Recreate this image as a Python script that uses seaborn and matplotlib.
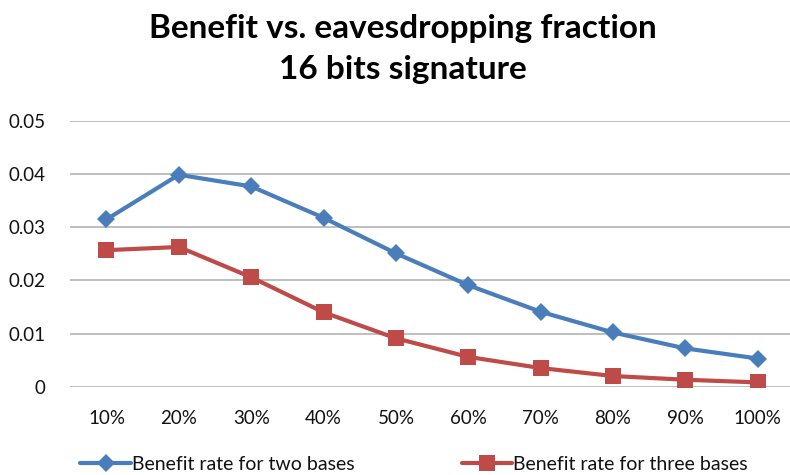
import matplotlib
matplotlib.use("Agg")
import matplotlib.pyplot as plt
import seaborn as sns
import pandas as pd

fractions = ["10%", "20%", "30%", "40%", "50%", "60%", "70%", "80%", "90%", "100%"]
two_bases = [0.0315, 0.0399, 0.0377, 0.0318, 0.0251, 0.0191, 0.0141, 0.0102, 0.0072, 0.0053]
three_bases = [0.0257, 0.0263, 0.0206, 0.0140, 0.0091, 0.0056, 0.0035, 0.0020, 0.0013, 0.0008]
series_names = ["Benefit rate for two bases", "Benefit rate for three bases"]
y_ticks = [0, 0.01, 0.02, 0.03, 0.04, 0.05]
y_tick_labels = ["0", "0.01", "0.02", "0.03", "0.04", "0.05"]

df = pd.DataFrame({
    "fraction": fractions * 2,
    "benefit": two_bases + three_bases,
    "series": [series_names[0]] * len(fractions) + [series_names[1]] * len(fractions),
})
df["pos"] = df["fraction"].map({f: i for i, f in enumerate(fractions)})

sns.set_theme(style="white")
plt.rcParams["font.family"] = ["Lato", "DejaVu Sans"]

fig = plt.figure(figsize=(7.9, 4.75), dpi=100)
ax = fig.add_axes([0.089, 0.186, 0.916, 0.559])

palette = {series_names[0]: "#4A7EBB", series_names[1]: "#BE4B48"}
markers = {series_names[0]: "D", series_names[1]: "s"}
sizes = {series_names[0]: 9, series_names[1]: 11}

for name in series_names:
    sub = df[df["series"] == name]
    sns.lineplot(data=sub, x="pos", y="benefit", ax=ax, color=palette[name],
                 marker=markers[name], markersize=sizes[name], linewidth=3,
                 markeredgewidth=0, label=name, zorder=3)

ax.set_xlim(-0.5, len(fractions) - 0.5)
ax.set_ylim(0, 0.05)
ax.set_xticks(range(len(fractions)))
ax.set_xticklabels(fractions, fontsize=13.5, color="#111111")
ax.set_yticks(y_ticks)
ax.set_yticklabels(y_tick_labels, fontsize=13.5, color="#111111")
ax.tick_params(axis="x", length=0, pad=17)
ax.tick_params(axis="y", length=0, pad=18)
ax.set_xlabel("")
ax.set_ylabel("")
for s in ax.spines.values():
    s.set_visible(False)
ax.grid(axis="y", color="#b3b3b3", linewidth=1.2)
ax.set_axisbelow(True)

ax.legend(loc="upper center", bbox_to_anchor=(0.475, -0.195), ncol=2, frameon=False,
          fontsize=14, handlelength=2.6, handletextpad=0.05, columnspacing=5.5,
          numpoints=1, labelcolor="#111111")

fig.suptitle("Benefit vs. eavesdropping fraction\n16 bits signature",
             fontsize=24, fontweight="bold", y=0.97, x=0.51, linespacing=1.5,
             color="black")

fig.savefig("out.png", dpi=100)
